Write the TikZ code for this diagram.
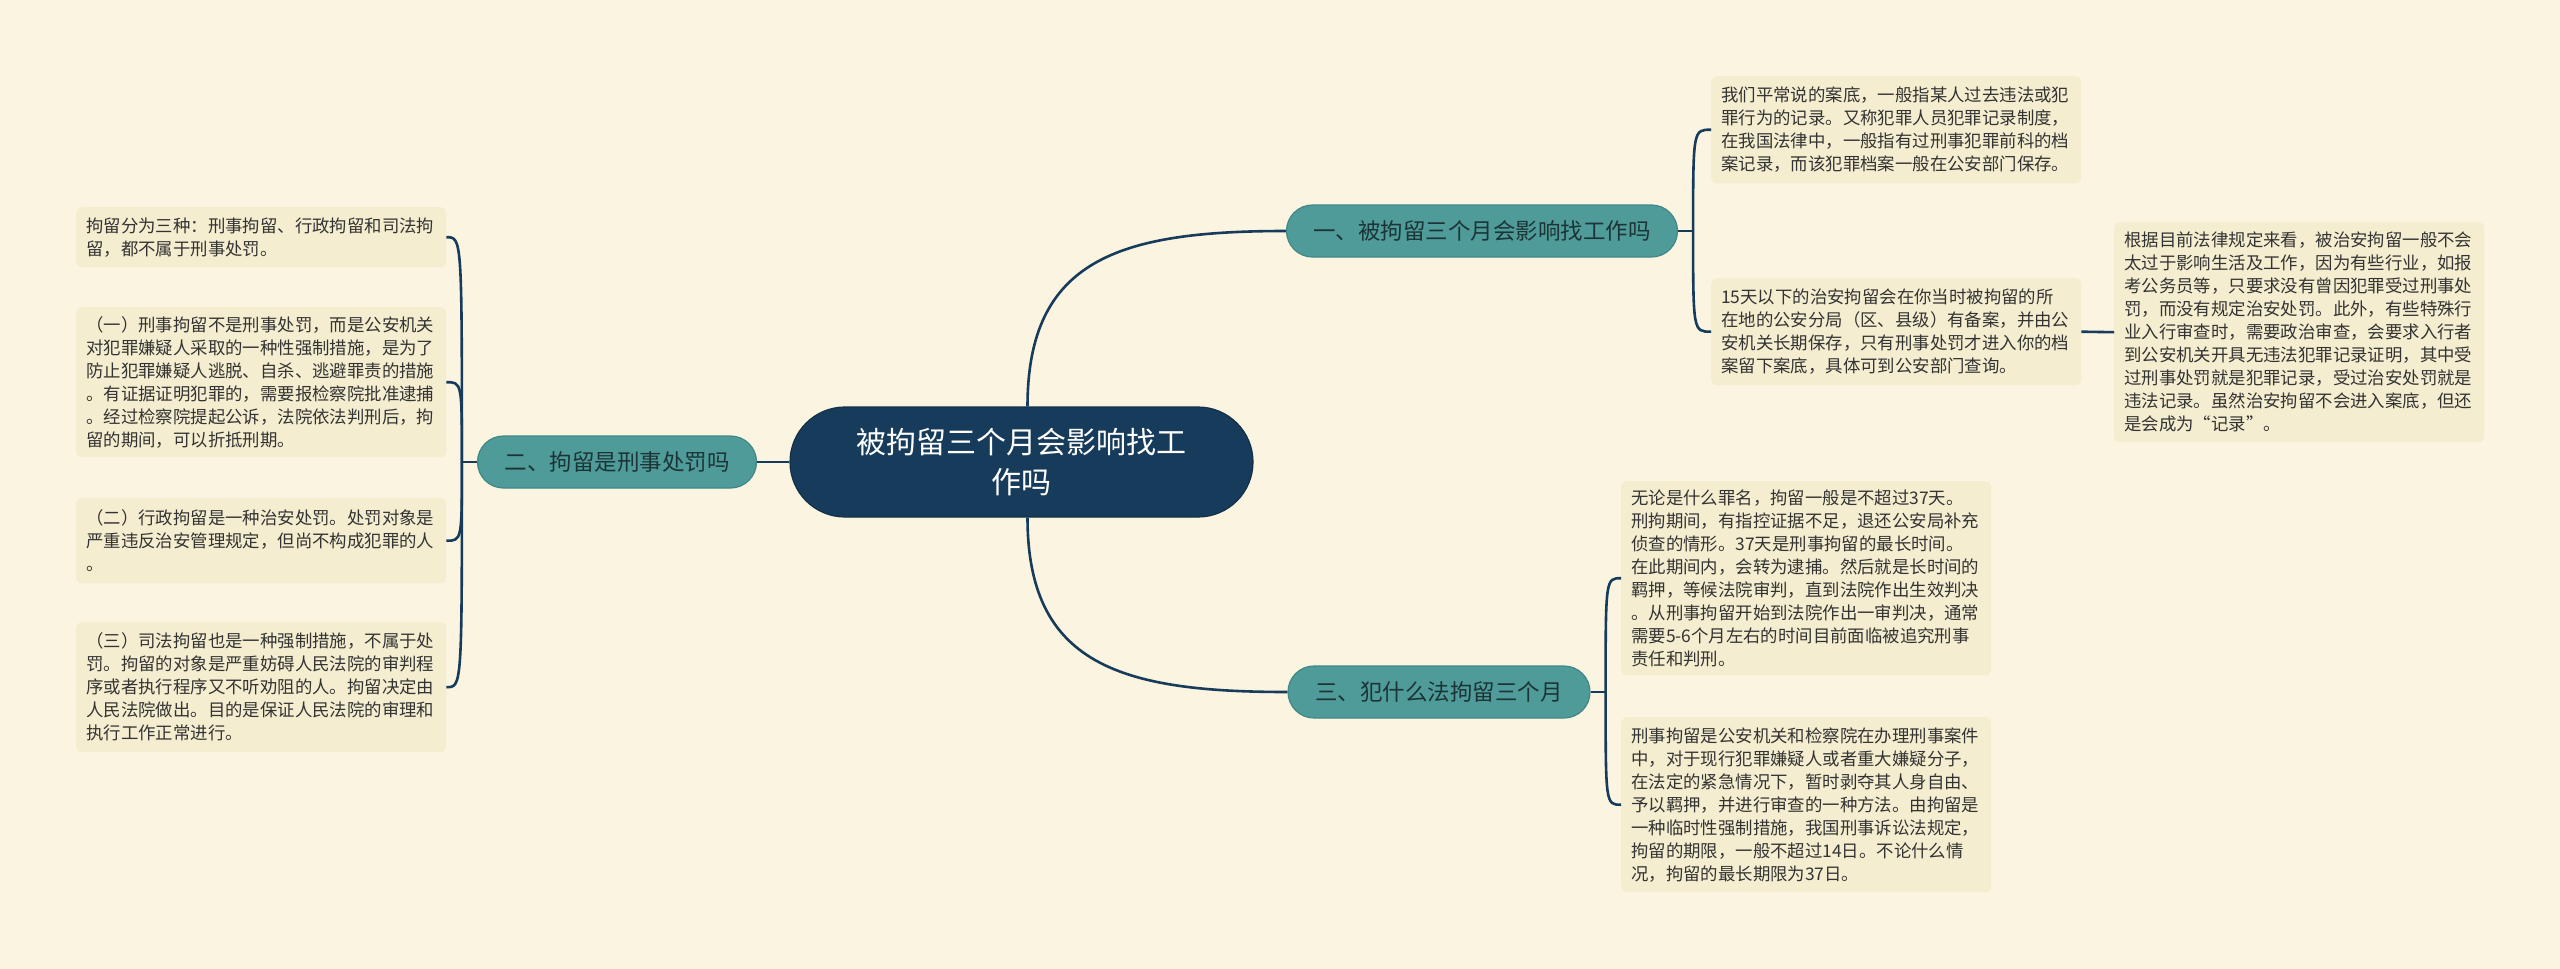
\documentclass[tikz,border=0pt]{standalone}
\usepackage{fontspec}
\setmainfont{Noto Sans CJK SC}
\usetikzlibrary{calc}
\definecolor{bgcol}{HTML}{FAF4E1}
\definecolor{leaffill}{HTML}{F4EDCF}
\definecolor{leaftext}{HTML}{333333}
\definecolor{branchfill}{HTML}{4F9B9A}
\definecolor{branchline}{HTML}{3F8887}
\definecolor{branchtext}{HTML}{1C3436}
\definecolor{navy}{HTML}{173C5B}
\definecolor{navyline}{HTML}{123049}
\begin{document}
\begin{tikzpicture}[x=1pt,y=-1pt,
  leaf/.style={fill=leaffill, rounded corners=6pt, text width=350pt, inner xsep=10pt, inner ysep=0pt,
    align=left, font=\fontsize{17.4}{23}\selectfont, text=leaftext, anchor=north west},
  branch/.style={fill=branchfill, draw=branchline, line width=1.2pt, rounded corners=26pt, minimum height=52pt,
    inner sep=0pt, font=\fontsize{22.5}{27}\selectfont, text=branchtext},
  root/.style={fill=navy, draw=navyline, line width=1.2pt, rounded corners=55pt, minimum width=463pt, minimum height=110pt,
    inner sep=0pt, align=center, font=\fontsize{30}{40}\selectfont, text=white},
  conn/.style={draw=navy, line width=2.6pt}]
\useasboundingbox (0,0) rectangle (2560,969);
\fill[bgcol] (0,0) rectangle (2560,969);

% root and branches
\node[root] (c) at (1021.5,462) {被拘留三个月会影响找工\\作吗};
\node[branch, minimum width=391pt] (b1) at (1482,231) {一、被拘留三个月会影响找工作吗};
\node[branch, minimum width=279pt] (b2) at (617,462) {二、拘留是刑事处罚吗};
\node[branch, minimum width=302pt] (b3) at (1439,692) {三、犯什么法拘留三个月};

% leaves right top
\node[leaf, minimum height=107pt] (r1) at (1711,76) {我们平常说的案底，一般指某人过去违法或犯\\罪行为的记录。又称犯罪人员犯罪记录制度，\\在我国法律中，一般指有过刑事犯罪前科的档\\案记录，而该犯罪档案一般在公安部门保存。};
\node[leaf, minimum height=107pt] (r2) at (1711,278) {15天以下的治安拘留会在你当时被拘留的所\\在地的公安分局（区、县级）有备案，并由公\\安机关长期保存，只有刑事处罚才进入你的档\\案留下案底，具体可到公安部门查询。};
\node[leaf, minimum height=220pt] (r3) at (2114,222) {根据目前法律规定来看，被治安拘留一般不会\\太过于影响生活及工作，因为有些行业，如报\\考公务员等，只要求没有曾因犯罪受过刑事处\\罚，而没有规定治安处罚。此外，有些特殊行\\业入行审查时，需要政治审查，会要求入行者\\到公安机关开具无违法犯罪记录证明，其中受\\过刑事处罚就是犯罪记录，受过治安处罚就是\\违法记录。虽然治安拘留不会进入案底，但还\\是会成为“记录”。};

% leaves right bottom
\node[leaf, minimum height=194pt] (r4) at (1621,481) {无论是什么罪名，拘留一般是不超过37天。\\刑拘期间，有指控证据不足，退还公安局补充\\侦查的情形。37天是刑事拘留的最长时间。\\在此期间内，会转为逮捕。然后就是长时间的\\羁押，等候法院审判，直到法院作出生效判决\\。从刑事拘留开始到法院作出一审判决，通常\\需要5-6个月左右的时间目前面临被追究刑事\\责任和判刑。};
\node[leaf, minimum height=175pt] (r5) at (1621,717) {刑事拘留是公安机关和检察院在办理刑事案件\\中，对于现行犯罪嫌疑人或者重大嫌疑分子，\\在法定的紧急情况下，暂时剥夺其人身自由、\\予以羁押，并进行审查的一种方法。由拘留是\\一种临时性强制措施，我国刑事诉讼法规定，\\拘留的期限，一般不超过14日。不论什么情\\况，拘留的最长期限为37日。};

% leaves left
\node[leaf, minimum height=60pt] (l1) at (76,207) {拘留分为三种：刑事拘留、行政拘留和司法拘\\留，都不属于刑事处罚。};
\node[leaf, minimum height=150pt] (l2) at (76,307) {（一）刑事拘留不是刑事处罚，而是公安机关\\对犯罪嫌疑人采取的一种性强制措施，是为了\\防止犯罪嫌疑人逃脱、自杀、逃避罪责的措施\\。有证据证明犯罪的，需要报检察院批准逮捕\\。经过检察院提起公诉，法院依法判刑后，拘\\留的期间，可以折抵刑期。};
\node[leaf, minimum height=85pt] (l3) at (76,498) {（二）行政拘留是一种治安处罚。处罚对象是\\严重违反治安管理规定，但尚不构成犯罪的人\\。};
\node[leaf, minimum height=130pt] (l4) at (76,622) {（三）司法拘留也是一种强制措施，不属于处\\罚。拘留的对象是严重妨碍人民法院的审判程\\序或者执行程序又不听劝阻的人。拘留决定由\\人民法院做出。目的是保证人民法院的审理和\\执行工作正常进行。};

% root connectors
\begin{scope}[on background layer/.style={}]
\end{scope}
\draw[conn] ($(c.north)+(6,0)$) .. controls ($(c.north)+(6,-147)$) and ($(b1.west)+(-167,0)$) .. (b1.west);
\draw[conn] ($(c.south)+(6,0)$) .. controls ($(c.south)+(6,147)$) and ($(b3.west)+(-167,0)$) .. (b3.west);
\draw[conn] (c.west) -- (b2.east);

% branch 1 bracket
\draw[conn] (b1.east) -- ++(15,0) coordinate (k1);
\draw[conn] (k1) .. controls (k1 |- r1.west) .. (r1.west);
\draw[conn] (k1) .. controls (k1 |- r2.west) .. (r2.west);
\draw[conn] (r2.east) -- (r3.west);

% branch 2 bracket
\draw[conn] (b2.west) -- ++(-15,0) coordinate (k2);
\draw[conn] (k2) .. controls (k2 |- l1.east) .. (l1.east);
\draw[conn] (k2) .. controls (k2 |- l2.east) .. (l2.east);
\draw[conn] (k2) .. controls (k2 |- l3.east) .. (l3.east);
\draw[conn] (k2) .. controls (k2 |- l4.east) .. (l4.east);

% branch 3 bracket
\draw[conn] (b3.east) -- ++(15,0) coordinate (k3);
\draw[conn] (k3) .. controls (k3 |- r4.west) .. (r4.west);
\draw[conn] (k3) .. controls (k3 |- r5.west) .. (r5.west);
\end{tikzpicture}
\end{document}
